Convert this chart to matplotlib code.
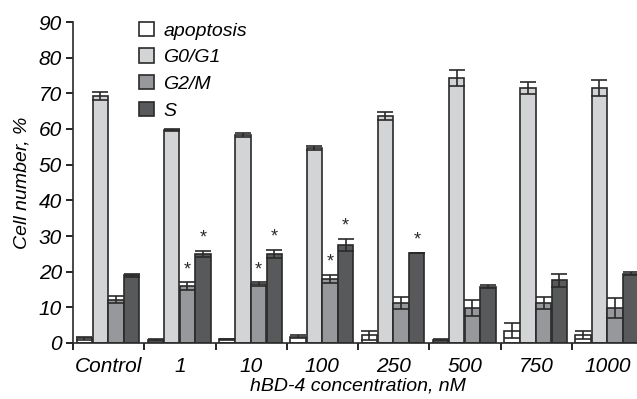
import matplotlib
matplotlib.use("Agg")
import matplotlib.pyplot as plt
import numpy as np

plt.rcParams['font.family'] = ['Liberation Sans Narrow', 'Liberation Sans', 'DejaVu Sans']
plt.rcParams['font.style'] = 'italic'

groups = ["Control", "1", "10", "100", "250", "500", "750", "1000"]
series = ["apoptosis", "G0/G1", "G2/M", "S"]

apoptosis = [1.3, 0.9, 1.0, 1.8, 2.2, 0.9, 3.5, 2.2]
apoptosis_err = [0.5, 0.3, 0.1, 0.5, 1.3, 0.2, 2.2, 1.2]
g0g1 = [69.2, 59.6, 58.4, 54.6, 63.6, 74.3, 71.5, 71.5]
g0g1_err = [1.2, 0.3, 0.6, 0.5, 1.1, 2.2, 1.7, 2.3]
g2m = [12.1, 16.0, 16.5, 18.0, 11.3, 9.8, 11.3, 9.8]
g2m_err = [1.0, 1.0, 0.5, 1.2, 1.7, 2.3, 1.7, 2.7]
s_phase = [19.0, 25.0, 25.0, 27.4, 25.2, 15.8, 17.6, 19.4]
s_err = [0.4, 0.8, 1.2, 1.7, 0.0, 0.5, 1.8, 0.4]

# which bars carry a significance star: (group index, series index)
stars = [(1, 2), (1, 3), (2, 2), (2, 3), (3, 2), (3, 3), (4, 3)]

values = [apoptosis, g0g1, g2m, s_phase]
errors = [apoptosis_err, g0g1_err, g2m_err, s_err]
colors = ["#ffffff", "#d3d4d6", "#96989b", "#58595b"]
offsets = [0.16, 0.385, 0.605, 0.825]
width = 0.215

fig = plt.figure(figsize=(6.37, 3.99), dpi=100)
ax = fig.add_axes([73 / 637, 56 / 399, 570 / 637, 321 / 399])

x = np.arange(len(groups))
for k in range(4):
    ax.bar(x + offsets[k], values[k], width, color=colors[k], edgecolor="#2a2a2a",
           linewidth=1.2, label=series[k], zorder=2)
    ax.errorbar(x + offsets[k], values[k], yerr=errors[k], fmt="none",
                ecolor="#2a2a2a", elinewidth=1.2, capsize=5.5, capthick=1.2, zorder=3)

for g, k in stars:
    ax.text(g + offsets[k], values[k][g] + errors[k][g] + 1.2, "*", ha="center",
            va="bottom", fontsize=13, fontstyle="normal", color="#2a2a2a")

ax.set_xlim(0, 8)
ax.set_ylim(0, 90)
ax.set_yticks(np.arange(0, 91, 10))
ax.set_xticks(np.arange(0, 9))
ax.set_xticklabels([])
ax.set_xticks(x + 0.5, minor=True)
ax.set_xticklabels(groups, minor=True, fontsize=15)
ax.tick_params(axis="x", which="minor", length=0, pad=10)
ax.tick_params(axis="x", which="major", length=5, width=1.2, direction="out")
ax.tick_params(axis="y", length=5, width=1.2, labelsize=15, pad=3)
for lbl in ax.get_yticklabels():
    lbl.set_fontstyle("italic")

for side in ["top", "right"]:
    ax.spines[side].set_visible(False)
for side in ["left", "bottom"]:
    ax.spines[side].set_linewidth(1.2)
    ax.spines[side].set_color("#2a2a2a")

ax.set_ylabel("Cell number, %", fontsize=14, labelpad=6)
ax.set_xlabel("hBD-4 concentration, nM", fontsize=14, labelpad=1)

ax.legend(loc="upper left", bbox_to_anchor=(0.085, 1.055), frameon=False, fontsize=14,
          handlelength=0.75, handleheight=0.75, handletextpad=0.5, labelspacing=0.45)

fig.savefig("out.png", dpi=100)
